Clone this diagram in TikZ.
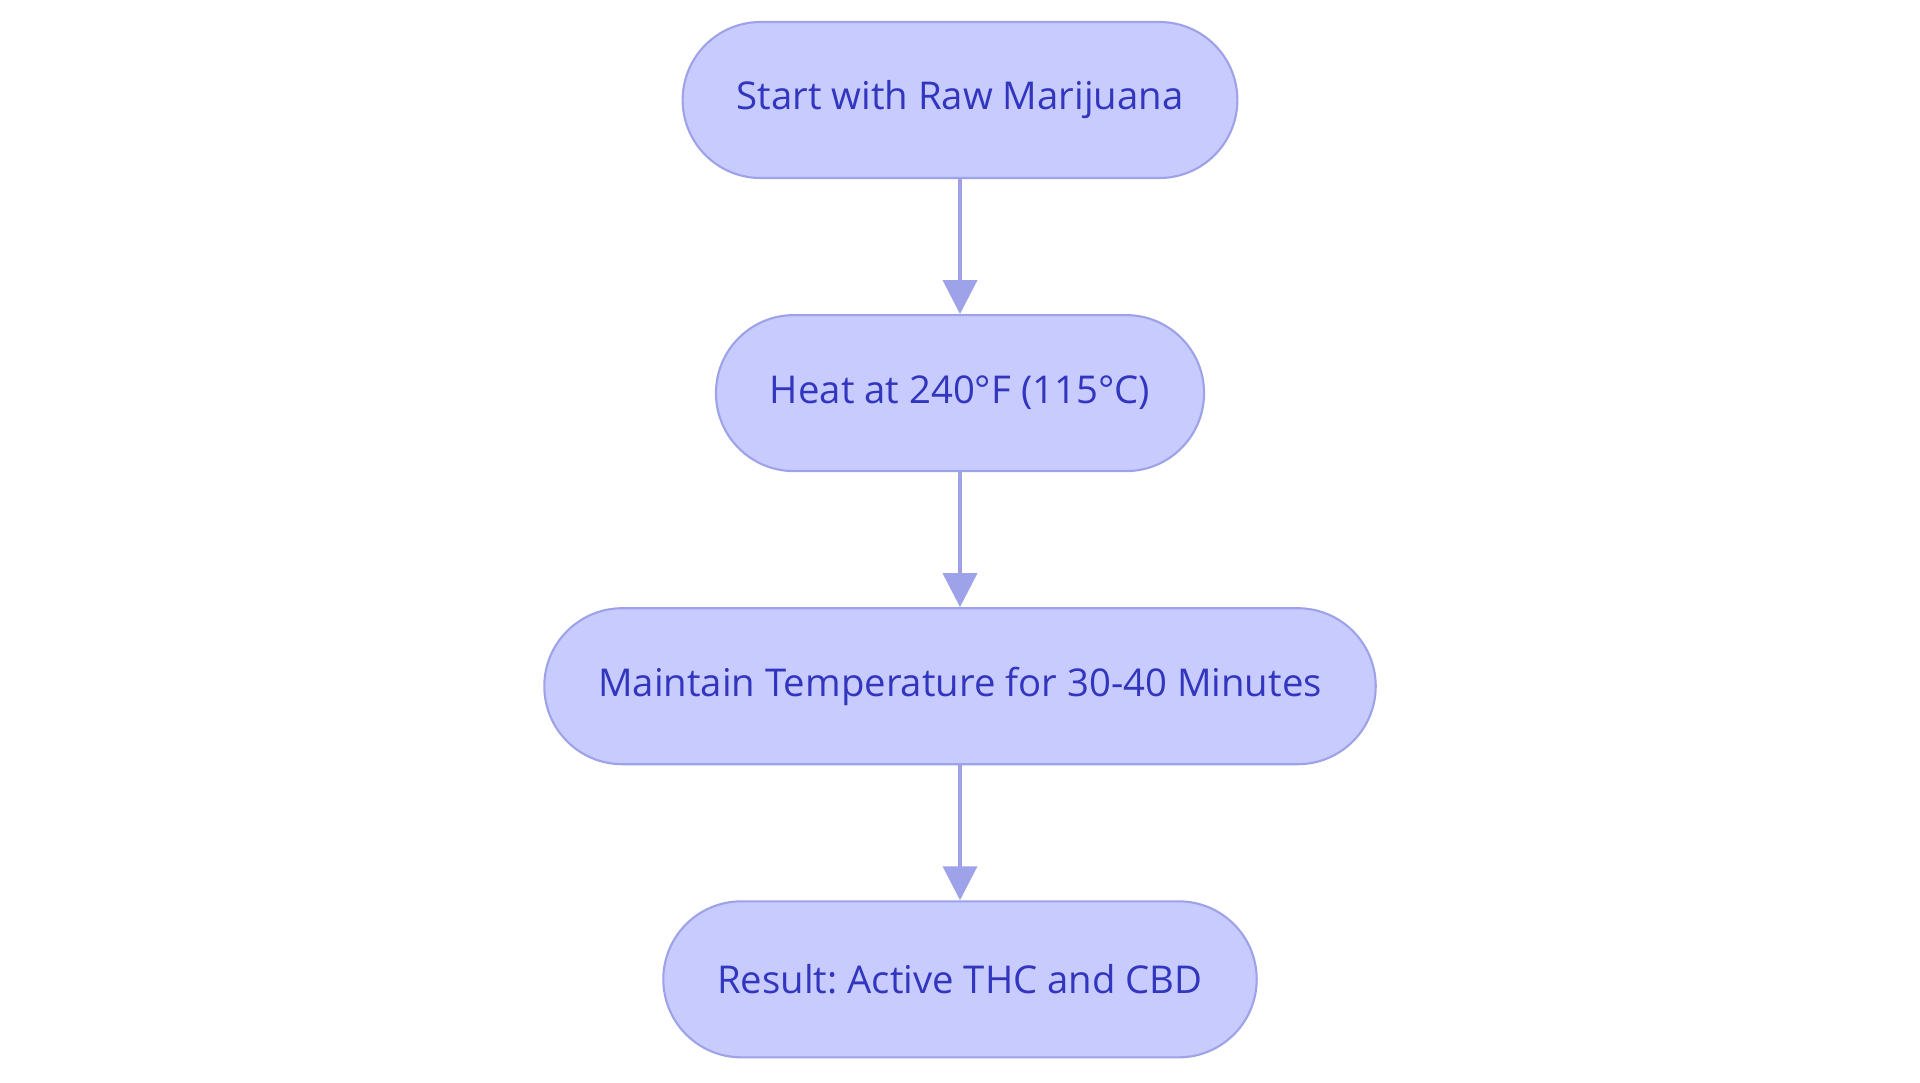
\documentclass[tikz,border=0pt]{standalone}
\usepackage{fontspec}
\setmainfont{Open Sans}
\usetikzlibrary{positioning}
\usetikzlibrary{arrows.meta}
\usepackage{xcolor}
\definecolor{boxfill}{HTML}{C8CBFE}
\definecolor{boxline}{HTML}{9DA2E9}
\definecolor{boxtext}{HTML}{3236BE}
\frenchspacing

\begin{document}
\begin{tikzpicture}[node distance=1.35cm,
	stepbox/.style={draw=boxline, line width=0.6pt, fill=boxfill, text=boxtext, rounded corners=0.78cm,
		minimum height=1.56cm, inner xsep=0.54cm, font=\fontsize{10.9pt}{13pt}\selectfont},
	flow/.style={draw=boxline, line width=1.1pt, -{Triangle[width=0.34cm, length=0.34cm]}}]
	\useasboundingbox (0,0) rectangle (19.2,-10.83);
	\node [stepbox] (raw) at (9.6,-1) {Start with Raw Marijuana};
	\node [stepbox, below=of raw] (heat) {Heat at 240°F (115°C)};
	\node [stepbox, below=of heat] (hold) {Maintain Temperature for 30-40 Minutes};
	\node [stepbox, below=of hold] (result) {Result: Active THC and CBD};
	\draw [flow] (raw) -- (heat);
	\draw [flow] (heat) -- (hold);
	\draw [flow] (hold) -- (result);
\end{tikzpicture}
\end{document}
